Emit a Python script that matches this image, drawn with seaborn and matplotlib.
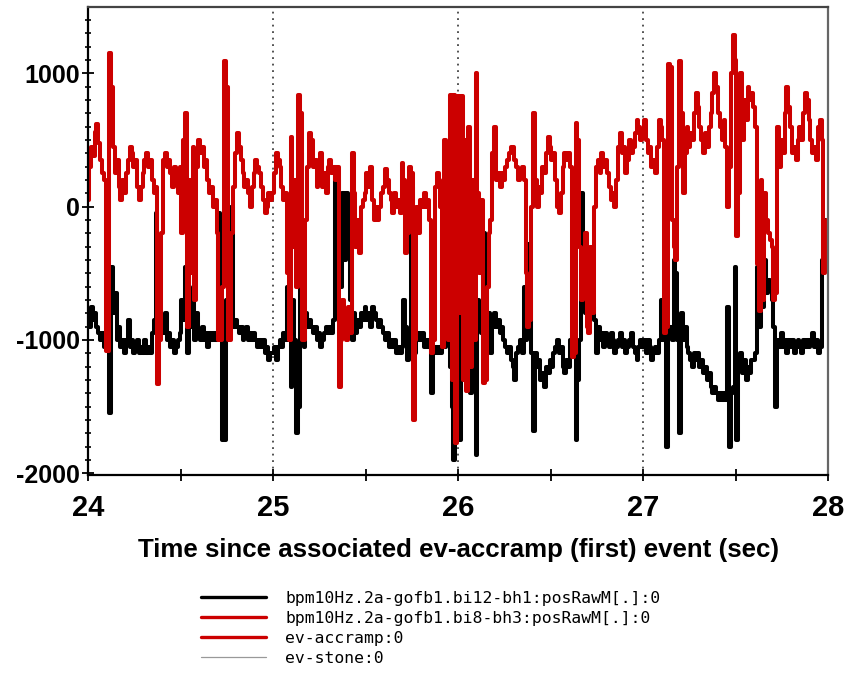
import numpy as np
import pandas as pd
import seaborn as sns
import matplotlib.pyplot as plt
from matplotlib.lines import Line2D
from matplotlib.ticker import MultipleLocator

# sample grid of the two bpm traces (sec)
t_start = 24.0
dt = 0.01

# bpm10Hz.2a-gofb1.bi12-bh1:posRawM[.]:0  (black), one row = 0.1 s
bh1 = [
    # 24.0 - 25.0
    -800, -900, -750, -850, -800, -900, -950, -1000, -950, -1050,
    -1050, -1000, -1550, -450, -800, -650, -1000, -900, -1050, -1000,
    -1100, -1000, -850, -1050, -1000, -1100, -1050, -1000, -1100, -1050,
    -1100, -1000, -1100, -1050, -1100, -950, -850, -50, -900, -800,
    -850, -950, -800, -1000, -950, -1050, -1000, -1100, -1050, -1000,
    -950, -700, -850, -450, -1100, -650, -900, -600, -1000, -800,
    -950, -1000, -900, -1000, -950, -1050, -950, -1000, -950, -1000,
    -950, -50, -800, -1750, -1750, -700, -850, -800, 0, -900,
    -850, -900, -950, -900, -1000, -950, -900, -1000, -950, -1000,
    -950, -1000, -1050, -1000, -1050, -1000, -1100, -1050, -1150, -1100,
    # 25.0 - 26.0
    -1100, -1050, -1150, -1050, -1000, -1050, -950, -1000, -600, -1000,
    -1350, -700, -1000, -1700, -1500, 400, -600, -1050, -800, -900,
    -850, -900, -950, -900, -1000, -950, -1050, -1000, -950, -900,
    -950, -900, -950, -850, 300, 200, -100, -600, 100, -400,
    100, -300, -700, -1000, -800, -950, -850, -900, -800, -850,
    -750, -850, -800, -900, -750, -800, -850, -900, -850, -900,
    -950, -1000, -950, -1050, -1000, -1050, -1000, -1100, -1050, -1100,
    -1050, -700, -900, -1150, -1000, 150, -800, -1100, -1000, -950,
    -1000, -950, -1050, -1000, -1050, -1000, -1400, -1100, -1050, -1100,
    -1050, -1100, -1000, -1050, -900, 100, -1200, -1500, -1900, -1600,
    # 26.0 - 27.0
    -1500, -1750, -400, 100, -1200, -800, 100, -1400, -200, -900,
    -1860, -700, -900, -950, -200, -500, -1000, -800, -1100, -900,
    -800, -900, -850, -950, -900, -1000, -1050, -1100, -1050, -1150,
    -1200, -1300, -1100, -1050, -1000, -1100, -600, -1000, -280, -700,
    -1100, -1680, -1100, -1200, -1150, -1300, -1250, -1350, -1200, -1250,
    -1150, -1200, -1100, -1050, -1000, -1100, -1050, -1200, -1250, -1150,
    -1200, -1000, -950, -1050, -1750, -1300, -1000, 100, -600, -800,
    -300, -700, -500, -750, -850, -1100, -900, -1000, -950, -1050,
    -950, -1000, -1050, -950, -1000, -1100, -1050, -1000, -950, -1050,
    -1000, -1100, -1050, -1000, -950, -1050, -1100, -1150, -1050, -1000,
    # 27.0 - 28.0
    -1050, -1000, -1100, -1000, -1050, -1150, -1100, -1050, -1100, -1000,
    -700, -1000, -800, -1800, -950, -900, -1000, -400, -500, -1000,
    -1700, -800, -1000, -900, -1050, -1100, -1150, -1200, -1100, -1150,
    -1100, -1200, -1150, -1250, -1200, -1300, -1250, -1350, -1400, -1350,
    -1400, -1450, -1400, -1450, -1400, -1450, -750, -1800, -1400, -1350,
    -450, -1750, -1200, -1100, -1250, -1150, -1300, -1200, -1250, -1150,
    -1150, -1100, -450, -900, -600, -750, -400, -650, -550, -600,
    -700, -900, -1500, -1000, -1050, -950, -1050, -1000, -1100, -1000,
    -1050, -1000, -1100, -1050, -1000, -1050, -1100, -1000, -1050, -1000,
    -1050, -1000, -950, -1050, -1000, -1100, -1050, -400, -100, -450,
    -350,
]

# bpm10Hz.2a-gofb1.bi8-bh3:posRawM[.]:0  (red), one row = 0.1 s
bh3 = [
    # 24.0 - 25.0
    50, 300, 450, 380, 560, 620, 480, 350, 250, 200,
    -1080, -1080, 1150, 900, 450, 250, 350, 150, 50, 200,
    100, 250, 350, 450, 400, 300, 350, 150, 50, 150,
    250, 350, 400, 300, 350, 200, 100, 150, -1330, -1000,
    -200, 350, 400, 300, 350, 250, 150, 300, 200, 100,
    300, -200, 500, 700, -900, 200, -500, 450, -700, 300,
    500, 400, 450, 300, 350, 200, 100, 150, 0, 50,
    -200, -1000, -1000, -600, 1090, 900, -1000, -1000, -200, 150,
    400, 550, 450, 350, 250, 150, 200, 100, 0, 150,
    250, 350, 300, 250, 150, 50, -50, 0, 100, 50,
    # 25.0 - 26.0
    100, 250, 400, 350, 300, 150, 50, 100, -500, -1000,
    520, -300, 200, -600, 840, 700, -1000, -1000, -100, 300,
    550, 500, 300, 350, 150, 300, 400, 150, 250, 100,
    300, 350, 250, 300, 200, 300, -1350, -1000, -700, -900,
    -1000, -750, -950, 400, 100, -300, -100, -350, 0, 50,
    100, 250, 150, 300, 50, -100, 0, -100, 0, 100,
    150, 280, 200, 100, 50, -50, 100, 0, 50, -50,
    330, 200, -350, -200, 300, 250, -1600, -1000, 0, -200,
    50, 0, 100, 0, 50, -100, -1100, -1000, 150, 250,
    200, 0, -1050, 500, 200, -1000, 840, -1300, 840, -1770,
    # 26.0 - 27.0
    830, -800, 830, -1300, 500, -1380, 600, -1200, 200, -1000,
    1000, 100, -500, 50, -1320, -1300, -600, -200, -100, 400,
    600, 200, 250, 150, 250, 200, 300, 350, 400, 450,
    450, 350, 300, 200, 250, 300, 200, -500, -900, -850,
    0, 700, 200, 0, 150, 100, 300, 250, 400, 520,
    450, 350, 400, 200, 0, -50, 100, 300, 400, 350,
    400, 300, -1130, -1100, 630, 500, -300, -700, -600, -200,
    -900, -950, -300, -800, 0, 300, 350, 250, 400, 300,
    350, 250, 150, 50, 100, 0, 200, 450, 550, 400,
    450, 250, 350, 500, 400, 450, 550, 650, 600, 500,
    # 27.0 - 28.0
    550, 650, 500, 400, 450, 300, 350, 250, 450, 650,
    600, 500, -950, -900, 1070, 1050, -100, -300, -400, 300,
    1090, 700, 100, 400, 600, 450, 550, 500, 700, 850,
    750, 600, 500, 400, 550, 450, 600, 700, 850, 1000,
    900, 700, 600, 500, 650, 450, 0, 300, 1000, 1290,
    1100, -220, 100, 1000, 500, 800, 650, 900, 800, 850,
    750, 600, -430, -780, 200, -700, 100, -100, -200, -250,
    -300, -700, -650, 600, 300, 500, 400, 700, 900, 750,
    600, 400, 450, 350, 500, 600, 500, 700, 850, 800,
    650, 500, 400, 450, 350, 600, 650, 500, -500, -200,
    -100,
]

labels = [
    'bpm10Hz.2a-gofb1.bi12-bh1:posRawM[.]:0',
    'bpm10Hz.2a-gofb1.bi8-bh3:posRawM[.]:0',
    'ev-accramp:0',
    'ev-stone:0',
]
event_lines = [25, 26, 27]
xticks = [24, 25, 26, 27, 28]
yticks = [-2000, -1000, 0, 1000]

red = '#cc0000'

time = t_start + dt * np.arange(len(bh1))
df = pd.DataFrame({'time': time, 'bh1': bh1, 'bh3': bh3})

sns.set_style('ticks')
plt.rcParams['font.family'] = ['Liberation Sans', 'DejaVu Sans']

fig = plt.figure(figsize=(8.44, 6.8), dpi=100)
ax = fig.add_axes([0.1043, 0.3015, 0.8768, 0.6882])

for x in event_lines:
    ax.axvline(x, color='#444444', ls=(0, (1, 2.6)), lw=1.3, zorder=0)

sns.lineplot(data=df, x='time', y='bh1', color='black', lw=2.9,
             drawstyle='steps-mid', estimator=None, ax=ax, legend=False)
sns.lineplot(data=df, x='time', y='bh3', color=red, lw=2.9,
             drawstyle='steps-mid', estimator=None, ax=ax, legend=False)

ax.set_xlim(24, 28)
ax.set_ylim(-2013, 1497)

ax.set_xticks(xticks)
ax.set_xticklabels([str(v) for v in xticks], fontsize=21, fontweight='bold')
ax.set_yticks(yticks)
ax.set_yticklabels([str(v) for v in yticks], fontsize=18, fontweight='bold')
ax.xaxis.set_minor_locator(MultipleLocator(0.5))
ax.yaxis.set_minor_locator(MultipleLocator(100))
ax.tick_params(axis='x', which='both', direction='inout', length=8, width=1.3,
               pad=10, colors='black')
ax.tick_params(axis='y', which='major', direction='inout', length=8, width=1.3,
               pad=2, colors='black')
ax.tick_params(axis='y', which='minor', direction='inout', length=4, width=1.2,
               colors='black')

for s in ax.spines.values():
    s.set_linewidth(1.6)
    s.set_color('black')
ax.spines['top'].set_color('#444444')
ax.spines['right'].set_color('#666666')

ax.set_xlabel('Time since associated ev-accramp (first) event (sec)',
              fontsize=18.6, fontweight='bold', labelpad=11, color='black')
ax.set_ylabel('')

handles = [
    Line2D([], [], color='black', lw=2.4),
    Line2D([], [], color=red, lw=2.4),
    Line2D([], [], color=red, lw=2.4),
    Line2D([], [], color='#999999', lw=0.9),
]
fig.legend(handles, labels, loc='upper left', bbox_to_anchor=(0.238, 0.131),
           frameon=False, prop={'family': 'DejaVu Sans Mono', 'size': 11.8},
           handlelength=4.0, handletextpad=1.15, labelspacing=0.3,
           borderpad=0, borderaxespad=0, labelcolor='black')

fig.savefig('out.png', dpi=100)
